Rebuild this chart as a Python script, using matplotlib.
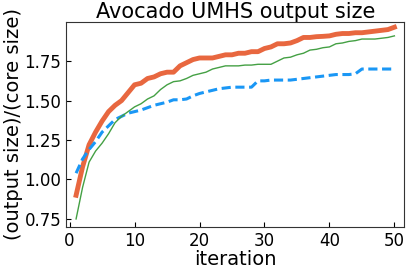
import matplotlib
matplotlib.use('Agg')
import matplotlib.pyplot as plt

iters = list(range(1, 51))

umhs_a = [0.90, 1.08, 1.22, 1.30, 1.37, 1.43, 1.47, 1.50, 1.55, 1.60,
          1.61, 1.64, 1.65, 1.67, 1.68, 1.68, 1.72, 1.74, 1.76, 1.77,
          1.77, 1.77, 1.78, 1.79, 1.79, 1.80, 1.80, 1.81, 1.81, 1.83,
          1.84, 1.86, 1.86, 1.865, 1.88, 1.90, 1.90, 1.905, 1.907, 1.91,
          1.92, 1.925, 1.925, 1.93, 1.93, 1.935, 1.94, 1.945, 1.95, 1.965]

umhs_b = [1.04, 1.13, 1.19, 1.24, 1.30, 1.34, 1.38, 1.40, 1.42, 1.43,
          1.44, 1.455, 1.47, 1.48, 1.49, 1.505, 1.505, 1.51, 1.53, 1.545,
          1.555, 1.565, 1.575, 1.58, 1.585, 1.585, 1.585, 1.585, 1.625, 1.625,
          1.63, 1.63, 1.63, 1.63, 1.635, 1.64, 1.645, 1.65, 1.655, 1.66,
          1.665, 1.665, 1.665, 1.67, 1.70, 1.70, 1.70, 1.70, 1.70, 1.70]

umhs_c = [0.75, 0.95, 1.11, 1.18, 1.23, 1.29, 1.36, 1.40, 1.43, 1.46,
          1.48, 1.51, 1.53, 1.57, 1.60, 1.62, 1.625, 1.64, 1.66, 1.67,
          1.68, 1.70, 1.71, 1.72, 1.72, 1.72, 1.725, 1.725, 1.73, 1.73,
          1.73, 1.75, 1.77, 1.775, 1.79, 1.80, 1.82, 1.825, 1.835, 1.84,
          1.86, 1.865, 1.875, 1.88, 1.89, 1.89, 1.89, 1.895, 1.90, 1.91]

fig, ax = plt.subplots(figsize=(4.07, 2.71), dpi=100)
ax.plot(iters, umhs_a, color='#e8673f', lw=3.5)
ax.plot(iters, umhs_b, color='#1a97f5', lw=2.2, ls=(0, (3, 1.5)))
ax.plot(iters, umhs_c, color='#44a044', lw=1)

ax.set_xlim(-0.5, 51.5)
ax.set_ylim(0.70, 2.0)
ax.set_xticks([0, 10, 20, 30, 40, 50])
ax.set_yticks([0.75, 1.00, 1.25, 1.50, 1.75])
ax.tick_params(direction='in', labelsize=12)
ax.set_xlabel('iteration', fontsize=14, labelpad=0)
ax.set_ylabel('(output size)/(core size)', fontsize=14, labelpad=1)
ax.set_title('Avocado UMHS output size', fontsize=15, pad=3)
for s in ax.spines.values():
    s.set_color('#333333')

fig.subplots_adjust(left=0.163, right=0.993, top=0.92, bottom=0.163)
fig.savefig('out.png')
